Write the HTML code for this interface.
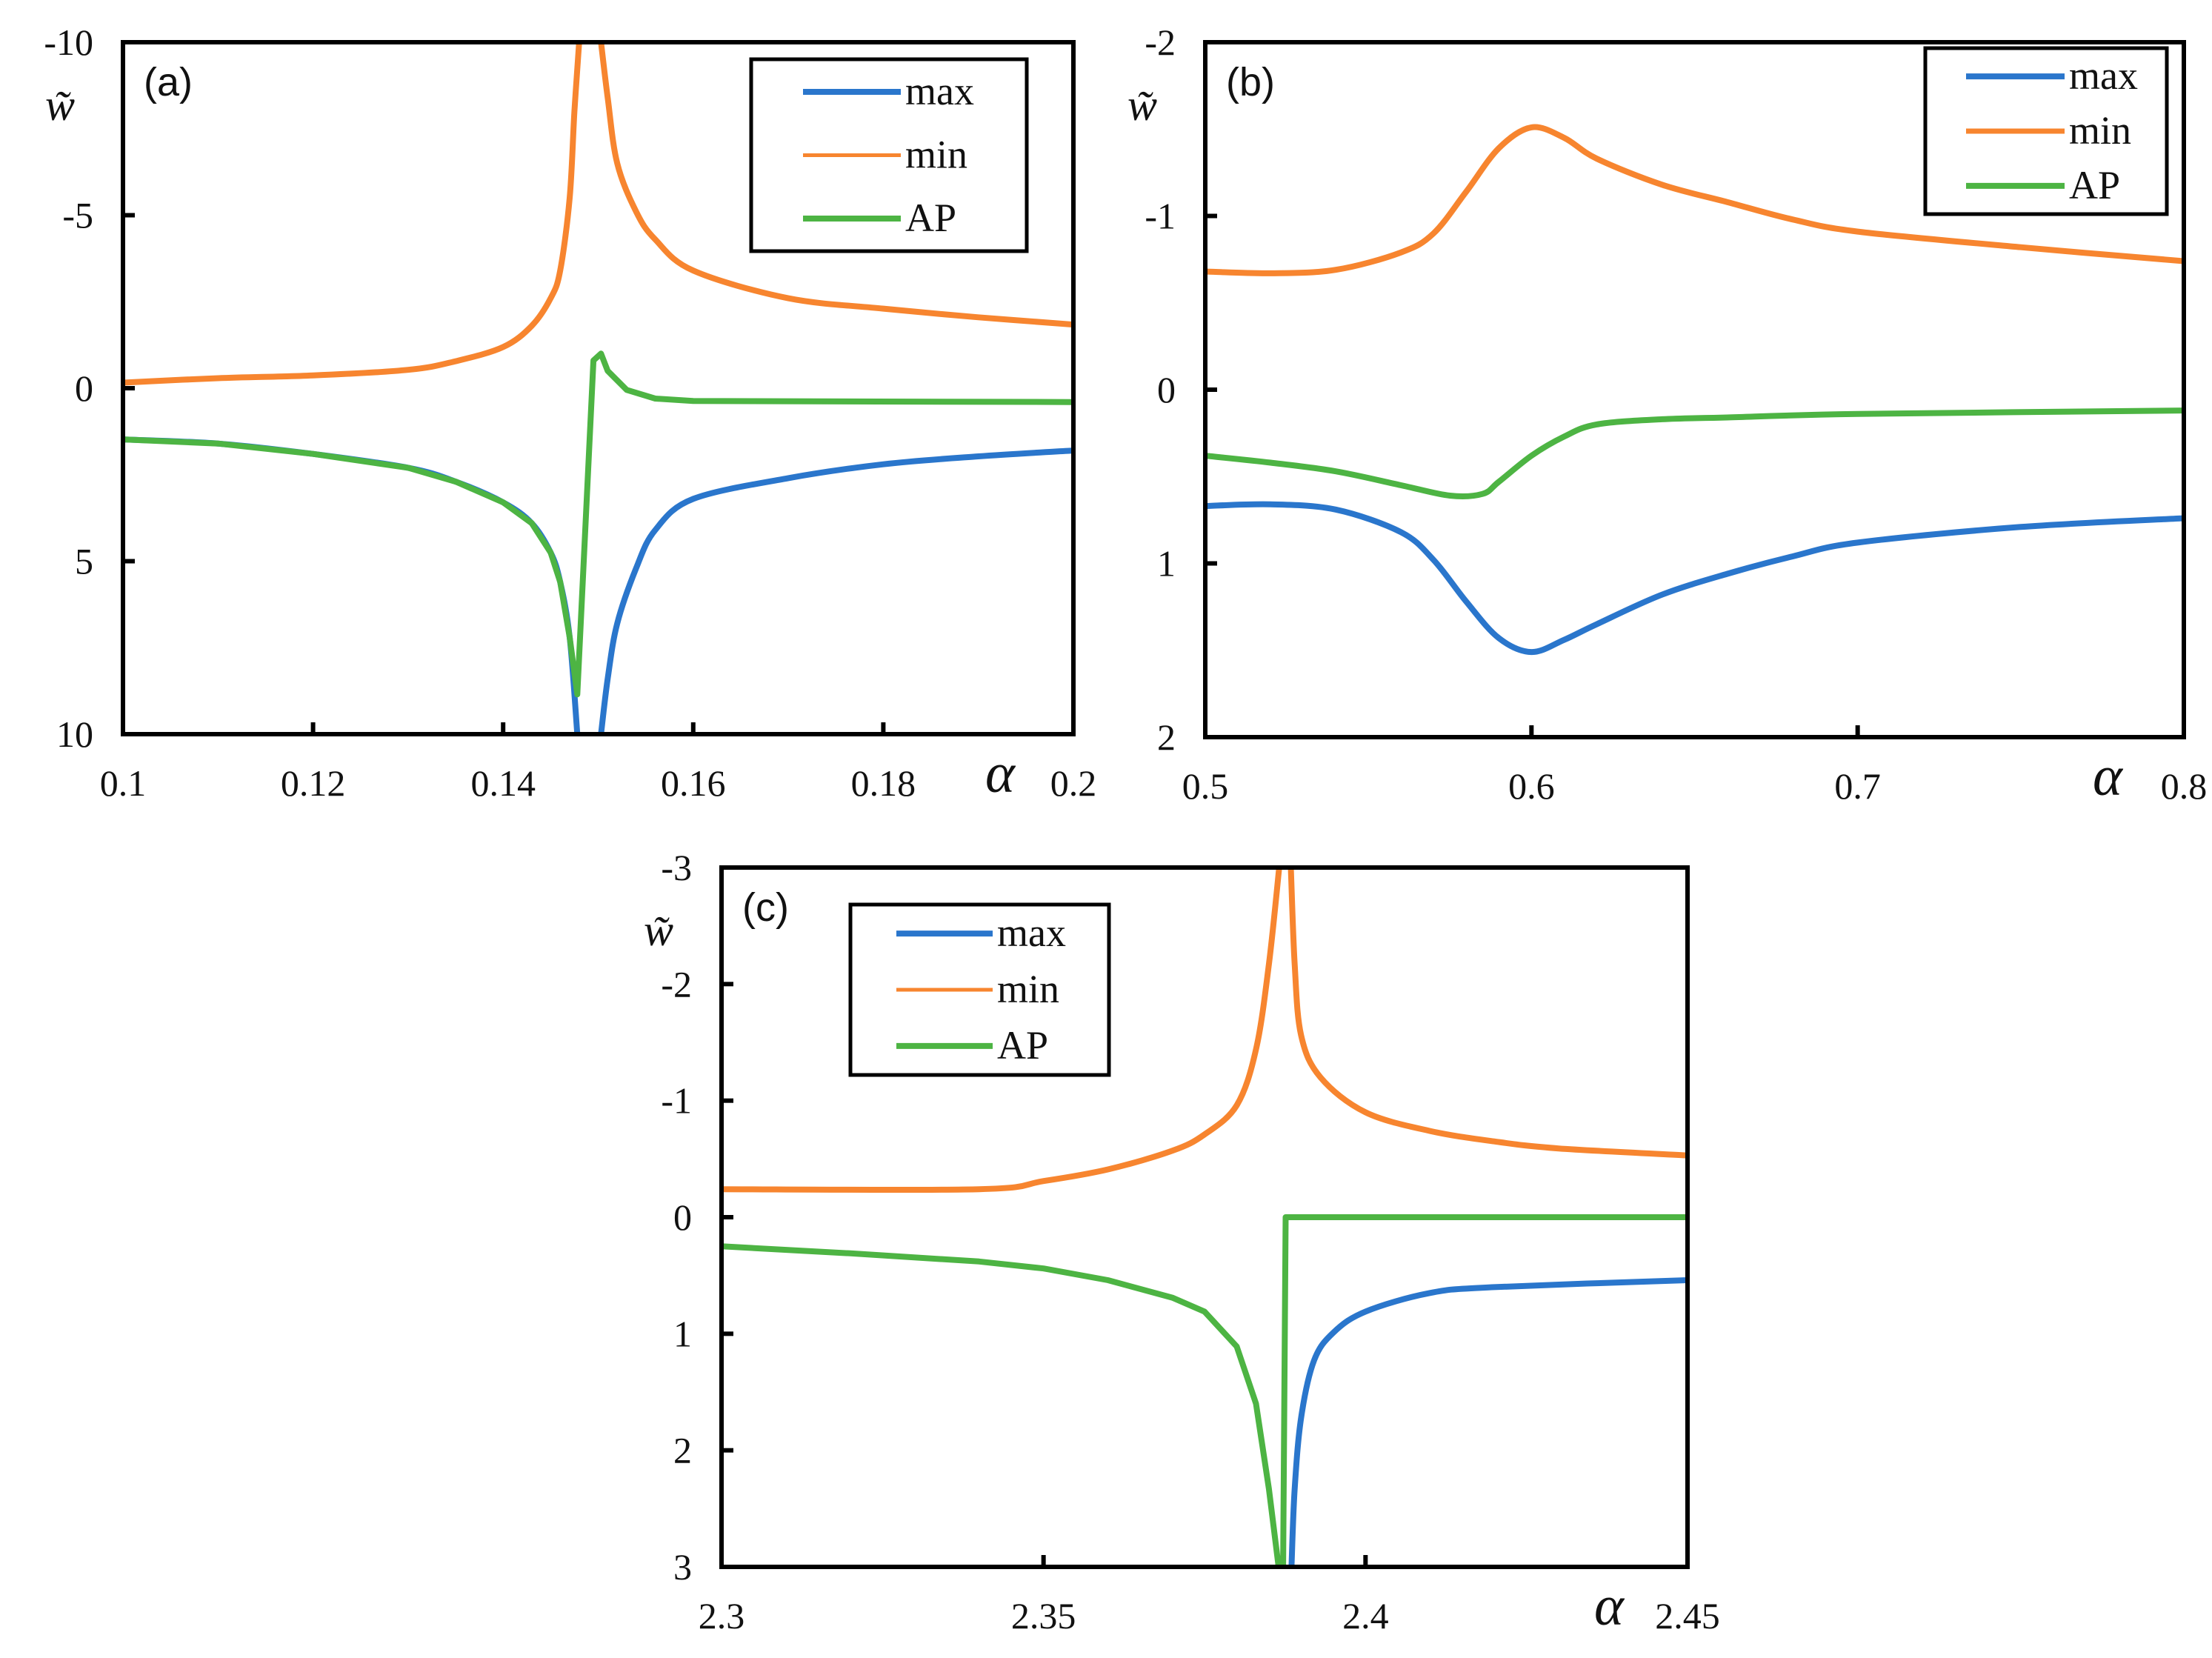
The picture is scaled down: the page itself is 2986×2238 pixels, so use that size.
<!DOCTYPE html>
<html><head><meta charset="utf-8"><style>
html,body{margin:0;padding:0;background:#fff;}
svg{display:block;}
text{font-family:"Liberation Serif",serif;fill:#111;}
</style></head>
<body>
<svg id="fig" width="2986" height="2238" viewBox="0 0 2986 2238" xmlns="http://www.w3.org/2000/svg"></svg>
<script>
// ---------- Panel (a) data ----------
const aXTicks = [0.1, 0.12, 0.14, 0.16, 0.18, 0.2];
const aXTickLabels = ["0.1", "0.12", "0.14", "0.16", "0.18", "0.2"];
const aYTicks = [-10, -5, 0, 5, 10];
const aYTickLabels = ["-10", "-5", "0", "5", "10"];
const aMinL_x = [0.1, 0.11, 0.12, 0.13, 0.135, 0.14, 0.143, 0.145, 0.146, 0.147, 0.1475, 0.148];
const aMinL_y = [-0.16, -0.29, -0.37, -0.53, -0.78, -1.19, -1.8, -2.6, -3.4, -5.5, -8, -10];
const aMinR_x = [0.1503, 0.151, 0.152, 0.154, 0.156, 0.16, 0.17, 0.18, 0.19, 0.2];
const aMinR_y = [-10, -8.4, -6.5, -5.1, -4.3, -3.4, -2.6, -2.3, -2.05, -1.84];
const aMaxL_x = [0.1, 0.11, 0.12, 0.13, 0.135, 0.14, 0.143, 0.145, 0.146, 0.147, 0.1478];
const aMaxL_y = [1.48, 1.6, 1.9, 2.3, 2.7, 3.3, 3.9, 4.75, 5.6, 7.2, 10];
const aMaxR_x = [0.1503, 0.151, 0.152, 0.154, 0.156, 0.16, 0.17, 0.18, 0.19, 0.2];
const aMaxR_y = [10, 8.4, 6.8, 5.2, 4.1, 3.2, 2.6, 2.2, 1.97, 1.8];
const aAP_x = [0.1, 0.11, 0.12, 0.13, 0.135, 0.14, 0.143, 0.145, 0.146, 0.147, 0.1478, 0.1495, 0.1503, 0.151, 0.153, 0.156, 0.16, 0.2];
const aAP_y = [1.48, 1.6, 1.9, 2.3, 2.7, 3.3, 3.9, 4.75, 5.6, 7.2, 8.85, -0.8, -1.0, -0.5, 0.05, 0.3, 0.37, 0.4];

// ---------- Panel (b) data ----------
const bXTicks = [0.5, 0.6, 0.7, 0.8];
const bXTickLabels = ["0.5", "0.6", "0.7", "0.8"];
const bYTicks = [-2, -1, 0, 1, 2];
const bYTickLabels = ["-2", "-1", "0", "1", "2"];
const bX = [0.5, 0.52, 0.54, 0.56, 0.57, 0.58, 0.59, 0.6, 0.61, 0.62, 0.64, 0.66, 0.68, 0.7, 0.75, 0.8];
const bMin = [-0.68, -0.67, -0.69, -0.79, -0.9, -1.14, -1.39, -1.51, -1.45, -1.33, -1.18, -1.08, -0.98, -0.91, -0.82, -0.74];
const bMax = [0.67, 0.66, 0.69, 0.82, 0.98, 1.22, 1.43, 1.51, 1.44, 1.35, 1.18, 1.06, 0.96, 0.88, 0.79, 0.74];
const bAP_x = [0.5, 0.52, 0.54, 0.56, 0.575, 0.585, 0.59, 0.6, 0.61, 0.62, 0.64, 0.66, 0.7, 0.8];
const bAP_y = [0.38, 0.42, 0.47, 0.55, 0.61, 0.6, 0.53, 0.38, 0.27, 0.2, 0.17, 0.16, 0.14, 0.12];

// ---------- Panel (c) data ----------
const cXTicks = [2.3, 2.35, 2.4, 2.45];
const cXTickLabels = ["2.3", "2.35", "2.4", "2.45"];
const cYTicks = [-3, -2, -1, 0, 1, 2, 3];
const cYTickLabels = ["-3", "-2", "-1", "0", "1", "2", "3"];
const cMinL_x = [2.3, 2.34, 2.35, 2.36, 2.37, 2.375, 2.38, 2.383, 2.385, 2.3866];
const cMinL_y = [-0.24, -0.24, -0.31, -0.41, -0.57, -0.71, -0.96, -1.44, -2.17, -3];
const cMinR_x = [2.3884, 2.389, 2.39, 2.393, 2.4, 2.41, 2.42, 2.43, 2.45];
const cMinR_y = [-3, -2.17, -1.56, -1.2, -0.9, -0.74, -0.65, -0.59, -0.53];
const cMaxR_x = [2.3885, 2.389, 2.39, 2.392, 2.395, 2.4, 2.41, 2.42, 2.45];
const cMaxR_y = [3, 2.33, 1.72, 1.23, 0.99, 0.81, 0.65, 0.6, 0.54];
const cAP_x = [2.3, 2.32, 2.34, 2.35, 2.36, 2.37, 2.375, 2.38, 2.383, 2.385, 2.3865, 2.3872, 2.3876, 2.45];
const cAP_y = [0.25, 0.31, 0.38, 0.44, 0.54, 0.69, 0.81, 1.11, 1.6, 2.33, 3, 3, 0, 0];

const BLUE = "#2a76cc", ORANGE = "#f7852f", GREEN = "#4db443";
const NS = "http://www.w3.org/2000/svg";
const svg = document.getElementById("fig");

function mk(tag, attrs, parent) {
  const e = document.createElementNS(NS, tag);
  for (const k in attrs) e.setAttribute(k, attrs[k]);
  (parent || svg).appendChild(e);
  return e;
}

function pathD(pts, smooth) {
  if (!smooth || pts.length < 3) return pts.map((p, i) => (i ? "L" : "M") + p[0].toFixed(1) + " " + p[1].toFixed(1)).join(" ");
  let d = "M" + pts[0][0].toFixed(1) + " " + pts[0][1].toFixed(1);
  for (let i = 0; i < pts.length - 1; i++) {
    const p0 = pts[i - 1] || pts[i], p1 = pts[i], p2 = pts[i + 1], p3 = pts[i + 2] || p2;
    const t = 1 / 6;
    let c1x = p1[0] + (p2[0] - p0[0]) * t, c1y = p1[1] + (p2[1] - p0[1]) * t;
    let c2x = p2[0] - (p3[0] - p1[0]) * t, c2y = p2[1] - (p3[1] - p1[1]) * t;
    // keep x monotone within segment
    c1x = Math.min(Math.max(c1x, Math.min(p1[0], p2[0])), Math.max(p1[0], p2[0]));
    c2x = Math.min(Math.max(c2x, Math.min(p1[0], p2[0])), Math.max(p1[0], p2[0]));
    d += " C" + c1x.toFixed(1) + " " + c1y.toFixed(1) + " " + c2x.toFixed(1) + " " + c2y.toFixed(1) + " " + p2[0].toFixed(1) + " " + p2[1].toFixed(1);
  }
  return d;
}

function panel(cfg) {
  const g = mk("g", {});
  
  
  const sx = v => cfg.L + (v - cfg.x0) / (cfg.x1 - cfg.x0) * (cfg.R - cfg.L);
  const sy = v => cfg.T + (v - cfg.y0) / (cfg.y1 - cfg.y0) * (cfg.B - cfg.T);
  const clipId = cfg.name + "-clip";
  const cp = mk("clipPath", {id: clipId}, g);
  mk("rect", {x: cfg.L, y: cfg.T, width: cfg.R - cfg.L, height: cfg.B - cfg.T}, cp);
  const lines = mk("g", {"clip-path": "url(#" + clipId + ")"}, g);
  cfg.series.forEach(s => {
    const pts = s.xs.map((x, i) => [sx(x), sy(s.ys[i])]);
    const p = mk("path", {d: pathD(pts, s.smooth !== false), fill: "none", stroke: s.color, "stroke-width": s.w || 8, "stroke-linejoin": "round", "stroke-linecap": "round"}, lines);
    
    
  });
  const fr = mk("rect", {x: cfg.L, y: cfg.T, width: cfg.R - cfg.L, height: cfg.B - cfg.T, fill: "none", stroke: "#000", "stroke-width": 6}, g);
  
  
  cfg.yTicks.forEach((v, i) => {
    const y = sy(v);
    const tk = mk("line", {x1: cfg.L, x2: cfg.L + 16, y1: y, y2: y, stroke: "#000", "stroke-width": 6}, g);
    
    
    const t = mk("text", {x: cfg.L - 40, y: y + 17, "text-anchor": "end", "font-size": 50}, g);
    t.textContent = cfg.yLabels[i];
    
    
  });
  cfg.xTicks.forEach((v, i) => {
    const x = sx(v);
    const tk = mk("line", {x1: x, x2: x, y1: cfg.B, y2: cfg.B - 16, stroke: "#000", "stroke-width": 6}, g);
    
    
    const t = mk("text", {x: x, y: cfg.B + 83, "text-anchor": "middle", "font-size": 50}, g);
    t.textContent = cfg.xLabels[i];
    
    
  });
  const xa = mk("text", {x: cfg.alphaX, y: cfg.B + 78, "text-anchor": "middle", "font-size": 76, "font-style": "italic"}, g);
  xa.textContent = "α";
  
  
  const ya = mk("text", {x: cfg.L - 85, y: cfg.T + 105, "text-anchor": "middle", "font-size": 60, "font-style": "italic"}, g);
  ya.textContent = "w̃";
  
  
  const pl = mk("text", {x: cfg.L + 28, y: cfg.T + 72, "font-size": 54, style: "font-family:'Liberation Sans',sans-serif"}, g);
  pl.textContent = cfg.label;
  
  
  const lg = cfg.leg;
  const lgG = mk("g", {}, g);
  
  
  mk("rect", {x: lg.x, y: lg.y, width: lg.w, height: lg.h, fill: "#fff", stroke: "#000", "stroke-width": 5}, lgG);
  const items = [["max", BLUE, 8], ["min", ORANGE, lg.minW], ["AP", GREEN, 8]];
  items.forEach((it, i) => {
    const cy = lg.y + lg.h * (0.17 + 0.33 * i);
    const e = mk("g", {}, lgG);
    
    
    mk("line", {x1: lg.x + lg.l1, x2: lg.x + lg.l2, y1: cy, y2: cy, stroke: it[1], "stroke-width": it[2]}, e);
    const t = mk("text", {x: lg.x + lg.l2 + 6, y: cy + 17, "font-size": 54}, e);
    t.textContent = it[0];
  });
}

panel({
  name: "panel-a", label: "(a)", L: 166, R: 1449, T: 57, B: 991,
  x0: 0.1, x1: 0.2, y0: -10, y1: 10, alphaX: 1350,
  xTicks: aXTicks, xLabels: aXTickLabels, yTicks: aYTicks, yLabels: aYTickLabels,
  leg: {x: 1014, y: 80, w: 372, h: 259, l1: 70, l2: 202, minW: 5},
  series: [
    {name: "min-curve-left", xs: aMinL_x, ys: aMinL_y, color: ORANGE},
    {name: "min-curve-right", xs: aMinR_x, ys: aMinR_y, color: ORANGE},
    {name: "max-curve-left", xs: aMaxL_x, ys: aMaxL_y, color: BLUE},
    {name: "max-curve-right", xs: aMaxR_x, ys: aMaxR_y, color: BLUE},
    {name: "ap-curve", xs: aAP_x, ys: aAP_y, color: GREEN, smooth: false}
  ]
});

panel({
  name: "panel-b", label: "(b)", L: 1627, R: 2948, T: 57, B: 995,
  x0: 0.5, x1: 0.8, y0: -2, y1: 2, alphaX: 2845,
  xTicks: bXTicks, xLabels: bXTickLabels, yTicks: bYTicks, yLabels: bYTickLabels,
  leg: {x: 2599, y: 65, w: 326, h: 224, l1: 55, l2: 188, minW: 7},
  series: [
    {name: "min-curve", xs: bX, ys: bMin, color: ORANGE},
    {name: "max-curve", xs: bX, ys: bMax, color: BLUE},
    {name: "ap-curve", xs: bAP_x, ys: bAP_y, color: GREEN}
  ]
});

panel({
  name: "panel-c", label: "(c)", L: 974, R: 2278, T: 1171, B: 2115,
  x0: 2.3, x1: 2.45, y0: -3, y1: 3, alphaX: 2172,
  xTicks: cXTicks, xLabels: cXTickLabels, yTicks: cYTicks, yLabels: cYTickLabels,
  leg: {x: 1148, y: 1221, w: 349, h: 230, l1: 62, l2: 192, minW: 5},
  series: [
    {name: "min-curve-left", xs: cMinL_x, ys: cMinL_y, color: ORANGE},
    {name: "min-curve-right", xs: cMinR_x, ys: cMinR_y, color: ORANGE},
    {name: "max-curve-right", xs: cMaxR_x, ys: cMaxR_y, color: BLUE},
    {name: "ap-curve", xs: cAP_x, ys: cAP_y, color: GREEN, smooth: false}
  ]
});
</script>
</body></html>
